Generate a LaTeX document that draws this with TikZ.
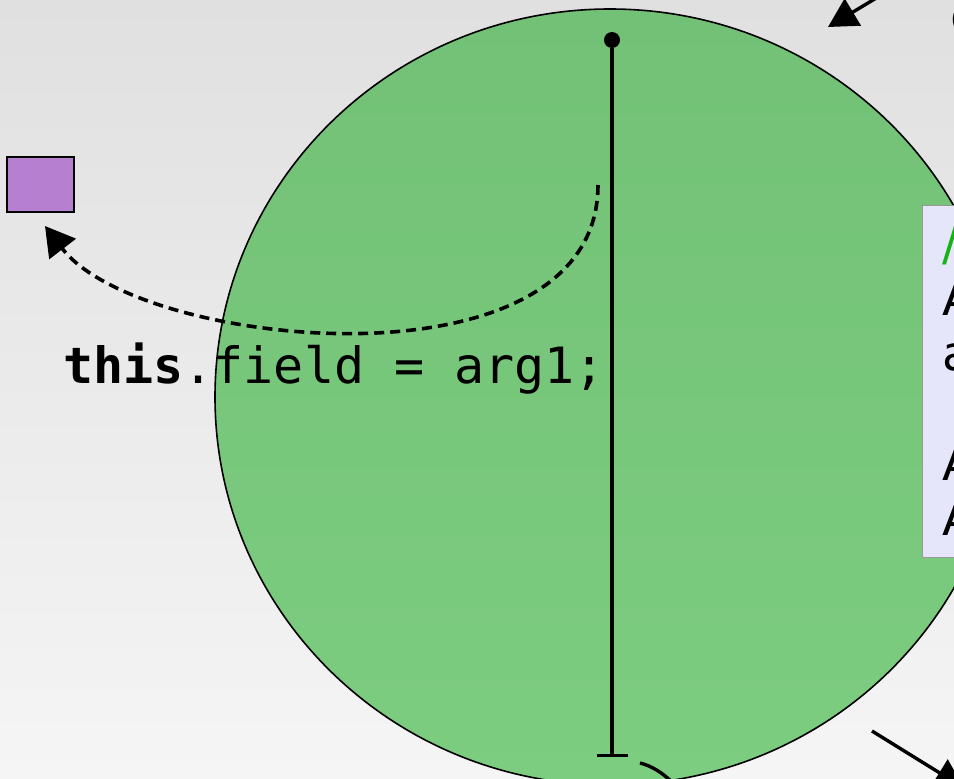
\documentclass[tikz,border=0pt]{standalone}
\usepackage{fontspec}
\setmainfont{DejaVu Sans}
\setmonofont{DejaVu Sans Mono}
\usetikzlibrary{arrows.meta, shapes.geometric, positioning}
\definecolor{bgtop}{RGB}{224,224,224}
\definecolor{bgbot}{RGB}{245,245,245}
\definecolor{bodytop}{RGB}{114,193,118}
\definecolor{bodybot}{RGB}{125,205,129}
\definecolor{objpurple}{RGB}{183,127,208}
\definecolor{notefill}{RGB}{230,230,250}
\definecolor{commentgreen}{RGB}{20,180,20}

\begin{document}
\begin{tikzpicture}[x=1pt, y=-1pt,
  body/.style={ellipse, draw=black, line width=1.6pt, minimum width=790pt, minimum height=776pt, inner sep=0pt, top color=bodytop, bottom color=bodybot},
  obj/.style={draw=black, line width=1.5pt, fill=objpurple, minimum width=67pt, minimum height=55pt, inner sep=0pt},
  dot/.style={circle, fill=black, minimum size=16pt, inner sep=0pt},
  life/.style={line width=3.4pt, -{Bar[width=31pt]}},
  ref/.style={line width=3.6pt, dash pattern=on 10pt off 6pt, -{Triangle[length=29pt, width=33pt]}},
  msg/.style={line width=3.4pt, -{Triangle[length=29pt, width=31pt]}},
  code/.style={font=\fontsize{50}{55}\selectfont\ttfamily, inner sep=0pt, anchor=base west},
  note/.style={draw=black!40, line width=1pt, fill=notefill, minimum width=100pt, minimum height=352pt, inner sep=0pt, anchor=north west},
  notetext/.style={font=\fontsize{48}{55}\selectfont, inner sep=0pt, anchor=base west}]
  \useasboundingbox (0,0) rectangle (954,779);
  \clip (0,0) rectangle (954,779);
  \shade[top color=bgtop, bottom color=bgbot] (0,0) rectangle (954,779);

  % method body
  \node[body] (body) at (610,397) {};
  \node[obj] (field) at (40.5,184.5) {};

  % reference to the field
  \coordinate (src) at (598,185);
  \coordinate (tgt) at (45,226);
  \draw[ref] (src) .. controls (598,395) and (140,350) .. (tgt);
  \node[code] (stmt) at (63,383) {\textbf{this}.field = arg1;};

  % execution line
  \node[dot] (start) at (612,40) {};
  \coordinate (stop) at (612,757);
  \draw[life] (start) -- (stop);
  \coordinate (next) at (640,763);
  \coordinate (nextout) at (674,784);
  \draw[line width=3.4pt] (next) .. controls (652,766) and (663,773) .. (nextout);

  % incoming and outgoing calls
  \coordinate (callin) at (928,-33);
  \coordinate (entry) at (828,27);
  \draw[msg] (callin) -- (entry);
  \coordinate (leave) at (872,731);
  \coordinate (callout) at (964,788);
  \draw[msg] (leave) -- (callout);
  \node[code] (caller) at (948,33) {c};

  % comment box
  \node[note] (note) at (922,205) {};
  \node[notetext] (cmt) at (942,260) {\textcolor{commentgreen}{/}};
  \node[notetext] (lineone) at (942,315) {A};
  \node[notetext] (linetwo) at (942,370) {a};
  \node[notetext] (linefour) at (942,480) {A};
  \node[notetext] (linefive) at (942,535) {A};
\end{tikzpicture}
\end{document}
